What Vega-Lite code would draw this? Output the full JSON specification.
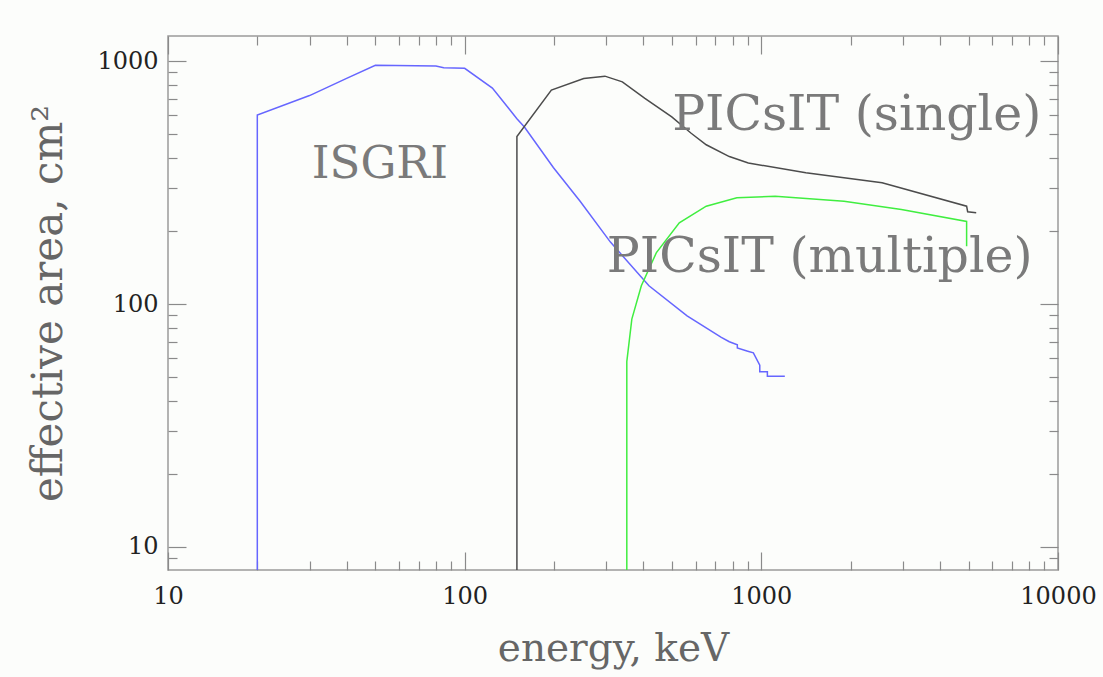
{
  "$schema": "https://vega.github.io/schema/vega-lite/v6.json",
  "width": 890,
  "height": 534,
  "autosize": "none",
  "padding": {"left": 168, "top": 36, "right": 45, "bottom": 107},
  "background": "#fcfdfb",
  "datasets": {
    "curves": [
      {"detector": "ISGRI", "energy": 20, "area": 1},
      {"detector": "ISGRI", "energy": 20, "area": 600},
      {"detector": "ISGRI", "energy": 30, "area": 722},
      {"detector": "ISGRI", "energy": 40, "area": 850},
      {"detector": "ISGRI", "energy": 50, "area": 962},
      {"detector": "ISGRI", "energy": 80, "area": 955},
      {"detector": "ISGRI", "energy": 85, "area": 940},
      {"detector": "ISGRI", "energy": 100, "area": 935},
      {"detector": "ISGRI", "energy": 124, "area": 775},
      {"detector": "ISGRI", "energy": 150, "area": 580},
      {"detector": "ISGRI", "energy": 159, "area": 536},
      {"detector": "ISGRI", "energy": 199, "area": 365},
      {"detector": "ISGRI", "energy": 245, "area": 265},
      {"detector": "ISGRI", "energy": 310, "area": 180},
      {"detector": "ISGRI", "energy": 418, "area": 119},
      {"detector": "ISGRI", "energy": 562, "area": 89.5},
      {"detector": "ISGRI", "energy": 733, "area": 73},
      {"detector": "ISGRI", "energy": 780, "area": 70},
      {"detector": "ISGRI", "energy": 830, "area": 68},
      {"detector": "ISGRI", "energy": 830, "area": 66},
      {"detector": "ISGRI", "energy": 900, "area": 64},
      {"detector": "ISGRI", "energy": 940, "area": 63},
      {"detector": "ISGRI", "energy": 988, "area": 56},
      {"detector": "ISGRI", "energy": 988, "area": 52.6},
      {"detector": "ISGRI", "energy": 1048, "area": 52.6},
      {"detector": "ISGRI", "energy": 1048, "area": 50.5},
      {"detector": "ISGRI", "energy": 1200, "area": 50.5},
      {"detector": "PICsIT single", "energy": 150, "area": 1},
      {"detector": "PICsIT single", "energy": 150, "area": 490},
      {"detector": "PICsIT single", "energy": 196, "area": 760},
      {"detector": "PICsIT single", "energy": 252, "area": 849},
      {"detector": "PICsIT single", "energy": 297, "area": 868},
      {"detector": "PICsIT single", "energy": 340, "area": 822},
      {"detector": "PICsIT single", "energy": 405, "area": 703},
      {"detector": "PICsIT single", "energy": 499, "area": 590},
      {"detector": "PICsIT single", "energy": 580, "area": 505},
      {"detector": "PICsIT single", "energy": 652, "area": 453},
      {"detector": "PICsIT single", "energy": 780, "area": 405},
      {"detector": "PICsIT single", "energy": 904, "area": 381},
      {"detector": "PICsIT single", "energy": 1413, "area": 347},
      {"detector": "PICsIT single", "energy": 2553, "area": 316},
      {"detector": "PICsIT single", "energy": 4920, "area": 253},
      {"detector": "PICsIT single", "energy": 4960, "area": 240},
      {"detector": "PICsIT single", "energy": 5300, "area": 238},
      {"detector": "PICsIT multiple", "energy": 352, "area": 1},
      {"detector": "PICsIT multiple", "energy": 352, "area": 58},
      {"detector": "PICsIT multiple", "energy": 366, "area": 86.7},
      {"detector": "PICsIT multiple", "energy": 394, "area": 119},
      {"detector": "PICsIT multiple", "energy": 443, "area": 163},
      {"detector": "PICsIT multiple", "energy": 529, "area": 216},
      {"detector": "PICsIT multiple", "energy": 652, "area": 253},
      {"detector": "PICsIT multiple", "energy": 827, "area": 274},
      {"detector": "PICsIT multiple", "energy": 1114, "area": 278},
      {"detector": "PICsIT multiple", "energy": 1900, "area": 265},
      {"detector": "PICsIT multiple", "energy": 2966, "area": 245},
      {"detector": "PICsIT multiple", "energy": 4920, "area": 219},
      {"detector": "PICsIT multiple", "energy": 4920, "area": 173}
    ],
    "labels": [
      {"label": "ISGRI", "energy": 51.8, "area": 331},
      {"label": "PICsIT (single)", "energy": 2097, "area": 521},
      {"label": "PICsIT (multiple)", "energy": 1574, "area": 135}
    ]
  },
  "resolve": {"axis": {"x": "independent", "y": "independent"}},
  "layer": [
    {
      "data": {"name": "curves"},
      "mark": {"type": "line", "strokeWidth": 1.5, "clip": true},
      "encoding": {
        "x": {
          "field": "energy",
          "type": "quantitative",
          "scale": {"type": "log", "domain": [10, 10000], "nice": false},
          "axis": {
            "orient": "bottom",
            "title": "energy, keV",
            "values": [10, 20, 30, 40, 50, 60, 70, 80, 90, 100, 200, 300, 400, 500, 600, 700, 800, 900, 1000, 2000, 3000, 4000, 5000, 6000, 7000, 8000, 9000, 10000],
            "labelExpr": "indexof([10, 100, 1000, 10000], datum.value) >= 0 ? datum.value + '' : ''",
            "tickSize": {"condition": {"test": "indexof([10, 100, 1000, 10000], datum.value) >= 0", "value": -18}, "value": -9},
            "labelPadding": 32,
            "labelFlush": false,
            "labelOverlap": false,
            "titlePadding": 12
          }
        },
        "y": {
          "field": "area",
          "type": "quantitative",
          "scale": {"type": "log", "domain": [8.04, 1270], "nice": false},
          "axis": {
            "orient": "left",
            "title": "effective area, cm²",
            "titleFontSize": 42,
            "values": [9, 10, 20, 30, 40, 50, 60, 70, 80, 90, 100, 200, 300, 400, 500, 600, 700, 800, 900, 1000],
            "labelExpr": "indexof([10, 100, 1000], datum.value) >= 0 ? datum.value + '' : ''",
            "tickSize": {"condition": {"test": "indexof([10, 100, 1000], datum.value) >= 0", "value": -18}, "value": -9},
            "labelPadding": 28,
            "labelOverlap": false,
            "titlePadding": 26
          }
        },
        "color": {
          "field": "detector",
          "type": "nominal",
          "scale": {"domain": ["ISGRI", "PICsIT single", "PICsIT multiple"], "range": ["#6666ff", "#4c4c4c", "#40ee40"]},
          "legend": null
        },
        "order": {"value": null}
      }
    },
    {
      "data": {"name": "labels"},
      "transform": [{"filter": "datum.label === 'ISGRI'"}],
      "mark": {"type": "text", "align": "center", "baseline": "alphabetic", "font": "DejaVu Serif", "fontSize": 45, "color": "#7a7a7a"},
      "encoding": {
        "x": {
          "field": "energy",
          "type": "quantitative",
          "scale": {"type": "log", "domain": [10, 10000], "nice": false},
          "axis": {
            "orient": "top",
            "title": null,
            "labels": false,
            "values": [10, 20, 30, 40, 50, 60, 70, 80, 90, 100, 200, 300, 400, 500, 600, 700, 800, 900, 1000, 2000, 3000, 4000, 5000, 6000, 7000, 8000, 9000, 10000],
            "tickSize": {"condition": {"test": "indexof([10, 100, 1000, 10000], datum.value) >= 0", "value": -18}, "value": -9}
          }
        },
        "y": {
          "field": "area",
          "type": "quantitative",
          "scale": {"type": "log", "domain": [8.04, 1270], "nice": false},
          "axis": {
            "orient": "right",
            "title": null,
            "labels": false,
            "values": [9, 10, 20, 30, 40, 50, 60, 70, 80, 90, 100, 200, 300, 400, 500, 600, 700, 800, 900, 1000],
            "tickSize": {"condition": {"test": "indexof([10, 100, 1000], datum.value) >= 0", "value": -18}, "value": -9}
          }
        },
        "text": {"field": "label", "type": "nominal"}
      }
    },
    {
      "data": {"name": "labels"},
      "transform": [{"filter": "datum.label !== 'ISGRI'"}],
      "mark": {"type": "text", "align": "center", "baseline": "alphabetic", "font": "DejaVu Serif", "fontSize": 49, "color": "#7a7a7a"},
      "encoding": {
        "x": {"field": "energy", "type": "quantitative", "scale": {"type": "log", "domain": [10, 10000], "nice": false}, "axis": null},
        "y": {"field": "area", "type": "quantitative", "scale": {"type": "log", "domain": [8.04, 1270], "nice": false}, "axis": null},
        "text": {"field": "label", "type": "nominal"}
      }
    }
  ],
  "config": {
    "view": {"stroke": "#9a9a9a", "strokeWidth": 1.5},
    "axis": {
      "grid": false,
      "domain": false,
      "tickColor": "#8a8a8a",
      "tickWidth": 1.2,
      "labelFont": "DejaVu Serif",
      "labelFontSize": 24,
      "labelColor": "#222222",
      "titleFont": "DejaVu Serif",
      "titleFontSize": 39,
      "titleFontWeight": "normal",
      "titleColor": "#666666"
    }
  }
}
